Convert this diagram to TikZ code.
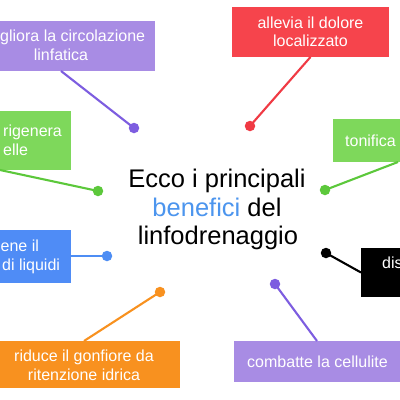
\documentclass[tikz,border=0pt]{standalone}
\usepackage{fontspec}
\setmainfont{Liberation Sans}
\usetikzlibrary{calc}
\definecolor{purpleBox}{HTML}{A88CE4}
\definecolor{purpleLine}{HTML}{7D5DE0}
\definecolor{redBox}{HTML}{F6444C}
\definecolor{redLine}{HTML}{F03A44}
\definecolor{greenBox}{HTML}{7ED85B}
\definecolor{greenLine}{HTML}{5CC83B}
\definecolor{blueBox}{HTML}{4F8CF6}
\definecolor{blueLine}{HTML}{4D8DF4}
\definecolor{orangeBox}{HTML}{F8911F}
\definecolor{blueText}{HTML}{4C95EE}
\begin{document}
\begin{tikzpicture}[x=1pt,y=-1pt,
  box/.style={rectangle, inner sep=0pt, outer sep=0pt, draw=none},
  lbl/.style={text=white, font=\fontsize{16}{19}\selectfont, inner sep=0pt},
  ctr/.style={text=black, font=\fontsize{25.5}{29}\selectfont, inner sep=0pt, anchor=base},
  dot/.style={circle, inner sep=0pt, minimum size=10.5pt},
  conn/.style={line width=2.1pt}]
\useasboundingbox (0,0) rectangle (400,400);
\clip (0,0) rectangle (400,400);
\fill[white] (0,0) rectangle (400,400);

% boxes
\node[box, fill=purpleBox, minimum width=188pt, minimum height=50pt] (b1) at (61,46) {};
\node[box, fill=redBox, minimum width=157pt, minimum height=50pt] (b2) at (310.5,32) {};
\node[box, fill=greenBox, minimum width=142pt, minimum height=59pt] (b3) at (0,140.5) {};
\node[box, fill=blueBox, minimum width=142pt, minimum height=53pt] (b4) at (0,256) {};
\node[box, fill=orangeBox, minimum width=192pt, minimum height=47pt] (b5) at (84,364.5) {};
\node[box, fill=purpleBox, minimum width=166pt, minimum height=41pt] (b6) at (317,361.5) {};
\node[box, fill=black, minimum width=130pt, minimum height=49pt] (b7) at (426,272.5) {};
\node[box, fill=greenBox, minimum width=130pt, minimum height=43pt] (b8) at (398,140.5) {};

% dots
\node[dot, fill=purpleLine] (d1) at (134,128) {};
\node[dot, fill=redLine] (d2) at (250,126) {};
\node[dot, fill=greenLine] (d3) at (98,191) {};
\node[dot, fill=blueLine] (d4) at (107,256) {};
\node[dot, fill=orangeBox] (d5) at (160,292) {};
\node[dot, fill=purpleLine] (d6) at (275,284) {};
\node[dot, fill=black] (d7) at (326,253) {};
\node[dot, fill=greenLine] (d8) at (325,190) {};

% connectors
\draw[conn, purpleLine] (b1.south) -- (d1.center);
\draw[conn, redLine] (b2.south) -- (d2.center);
\draw[conn, greenLine] (b3.south) -- (d3.center);
\draw[conn, blueLine] (b4.east) -- (d4.center);
\draw[conn, orangeBox] (b5.north) -- (d5.center);
\draw[conn, purpleLine] (b6.north) -- (d6.center);
\draw[conn, black] (b7.west) -- (d7.center);
\draw[conn, greenLine] (b8.south) -- (d8.center);

% box texts
\node[lbl, anchor=base west] (t1a) at (0,41.5) {gliora la circolazione};
\node[lbl, anchor=base] (t1b) at (61,60) {linfatica};
\node[lbl, anchor=base] (t2a) at (310.5,28) {allevia il dolore};
\node[lbl, anchor=base] (t2b) at (310.5,46.5) {localizzato};
\node[lbl, anchor=base west] (t3a) at (3,136) {rigenera};
\node[lbl, anchor=base west] (t3b) at (3,155) {elle};
\node[lbl, anchor=base west] (t4a) at (0.5,251) {ene il};
\node[lbl, anchor=base west] (t4b) at (2,270) {di liquidi};
\node[lbl, anchor=base] (t5a) at (84,361.5) {riduce il gonfiore da};
\node[lbl, anchor=base] (t5b) at (84,380) {ritenzione idrica};
\node[lbl, anchor=base] (t6) at (317.5,367) {combatte la cellulite};
\node[lbl, anchor=base west] (t7) at (382,268) {dis};
\node[lbl, anchor=base west] (t8) at (345,146) {tonifica};

% central text
\node[ctr] (c1) at (217,187) {Ecco i principali};
\node[ctr] (c2) at (217,216) {{\color{blueText}benefici} del};
\node[ctr] (c3) at (218,244) {linfodrenaggio};
\end{tikzpicture}
\end{document}
